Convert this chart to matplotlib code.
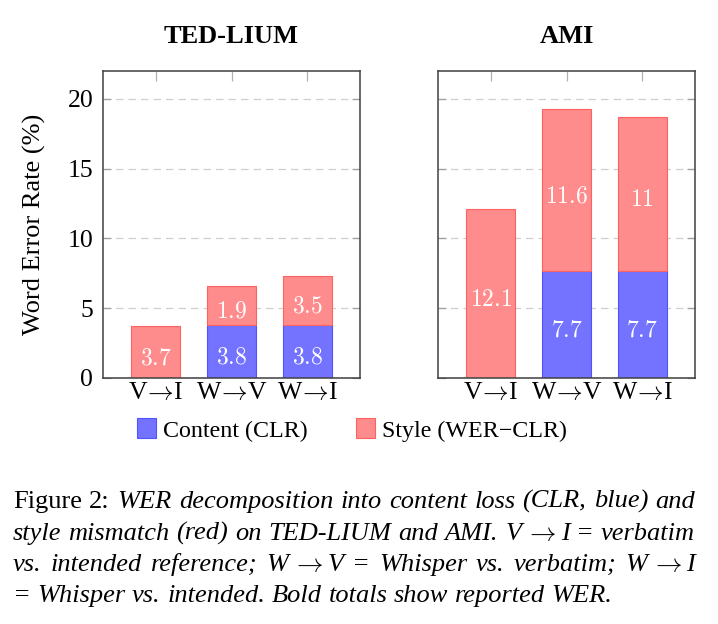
import matplotlib
matplotlib.use("Agg")
import matplotlib.pyplot as plt
from matplotlib.patches import Patch
import numpy as np

# ---------------- data ----------------
categories = ["V→I", "W→V", "W→I"]
panel_titles = ["TED-LIUM", "AMI"]

ted_content = [0.0, 3.8, 3.8]
ted_style = [3.7, 2.8, 3.5]
ted_content_text = ["", "3.8", "3.8"]
ted_style_text = ["3.7", "1.9", "3.5"]

ami_content = [0.0, 7.7, 7.7]
ami_style = [12.1, 11.6, 11.0]
ami_content_text = ["", "7.7", "7.7"]
ami_style_text = ["12.1", "11.6", "11"]

yticks = [0, 5, 10, 15, 20]
ylabel = "Word Error Rate (%)"
legend_labels = ["Content (CLR)", "Style (WER\u2212CLR)"]

caption_prefix = ["Figure", "2:"]
caption_lines = [
    "Figure 2: WER decomposition into content loss (CLR, blue) and",
    "style mismatch (red) on TED-LIUM and AMI. V\u2009→\u2009I = verbatim",
    "vs. intended reference; W\u2009→\u2009V = Whisper vs. verbatim; W\u2009→\u2009I",
    "= Whisper vs. intended. Bold totals show reported WER.",
]

ARROW = r"$\rightarrow$"
TIGHT_ARROW = r"$\!\rightarrow\!$"

# ---------------- style ----------------
plt.rcParams["font.family"] = ["Liberation Serif", "DejaVu Serif"]
plt.rcParams["mathtext.fontset"] = "cm"

BLUE_FILL, BLUE_EDGE = "#7373FF", "#5252FF"
RED_FILL, RED_EDGE = "#FF8C8C", "#FF6060"

W, H = 718, 624
fig = plt.figure(figsize=(W / 100, H / 100), dpi=100)


def px_axes(l, t, r, b):
    return [l / W, 1 - b / H, (r - l) / W, (b - t) / H]


ax1 = fig.add_axes(px_axes(103, 71, 360, 378))
ax2 = fig.add_axes(px_axes(438, 71, 695, 378))

panels = [
    (ax1, panel_titles[0], ted_content, ted_style, ted_content_text, ted_style_text),
    (ax2, panel_titles[1], ami_content, ami_style, ami_content_text, ami_style_text),
]

x = np.arange(len(categories))
bw = 0.65
tick_texts = [c.replace("→", TIGHT_ARROW) for c in categories]
for i, (ax, title, content, style, ctext, stext) in enumerate(panels):
    ax.bar(x, content, width=bw, color=BLUE_FILL, edgecolor=BLUE_EDGE,
           linewidth=0.8, zorder=2)
    ax.bar(x, style, bottom=content, width=bw, color=RED_FILL,
           edgecolor=RED_EDGE, linewidth=0.8, zorder=2)
    for xi, c, s, ct, st in zip(x, content, style, ctext, stext):
        if ct:
            ax.annotate(f"${ct}$", (xi, c / 2), xytext=(0, -5),
                        textcoords="offset points", ha="center", va="center",
                        color="white", fontsize=17, zorder=4)
        if st:
            ax.annotate(f"${st}$", (xi, c + s / 2), xytext=(0, -5),
                        textcoords="offset points", ha="center", va="center",
                        color="white", fontsize=17, zorder=4)

    ax.set_xlim(-0.7, 2.7)
    ax.set_ylim(0, 22)
    ax.set_yticks(yticks)
    ax.set_xticks(x, tick_texts)
    ax.set_axisbelow(True)
    ax.yaxis.grid(True, color="#cfcfcf", linestyle=(0, (6, 4)), linewidth=0.9)
    ax.tick_params(axis="x", direction="in", bottom=False, top=True,
                   length=7.2, width=0.9, color="#b0b0b0", labelsize=18.5, pad=3)
    ax.tick_params(axis="y", direction="in", left=True, right=True,
                   length=6, width=0.9, color="#a0a0a0", labelsize=18.5, pad=7,
                   labelleft=(i == 0))
    for sp in ax.spines.values():
        sp.set_color("#404040")
        sp.set_linewidth(1.1)
        sp.set_zorder(3)
    ax.set_title(title, fontsize=19, fontweight="bold", pad=20)

ax1.set_ylabel(ylabel, fontsize=19, va="center")
ax1.yaxis.set_label_coords(-0.268, 0.5)

handles = [Patch(facecolor=BLUE_FILL, edgecolor=BLUE_EDGE, linewidth=0.8),
           Patch(facecolor=RED_FILL, edgecolor=RED_EDGE, linewidth=0.8)]
fig.legend(handles, legend_labels, loc="center",
           bbox_to_anchor=(352 / W, 1 - 430 / H), ncol=2, frameon=False,
           fontsize=17.3, handlelength=0.8, handleheight=0.9,
           handletextpad=0.3, columnspacing=2.0, borderpad=0, borderaxespad=0)

# ---------------- caption (justified) ----------------
cap_fs = 19
cap_left, cap_right = 13, 695
cap_baselines = [508, 540, 571, 602]

fig.canvas.draw()
renderer = fig.canvas.get_renderer()


def measure(s, style):
    t = fig.text(0, 0, s, fontsize=cap_fs, fontstyle=style)
    w = t.get_window_extent(renderer).width
    t.remove()
    return w


em = cap_fs / 72 * 100
space_w = measure("x x", "italic") - measure("xx", "italic")
thin = 0.15 * em


def word_pieces(word, line_idx, word_idx):
    if line_idx == 0 and word_idx < len(caption_prefix):
        return [(word, "normal")]
    if "\u2009" in word:
        out = []
        for p in word.split("\u2009"):
            if p == "→":
                out.append((ARROW, "normal"))
            else:
                out.append((p, "italic"))
        return out
    return [(word, "italic")]


for li, (line, yb) in enumerate(zip(caption_lines, cap_baselines)):
    words = line.split(" ")
    wp = [word_pieces(w, li, wi) for wi, w in enumerate(words)]
    pw = [[measure(t, st) for t, st in pcs] for pcs in wp]
    ww = [sum(p) + thin * (len(p) - 1) for p in pw]
    if li < len(caption_lines) - 1:
        gap = (cap_right - cap_left - sum(ww)) / (len(words) - 1)
    else:
        gap = space_w
    xc = cap_left
    for pcs, widths, wtot in zip(wp, pw, ww):
        xp = xc
        for (t, st), w in zip(pcs, widths):
            fig.text(xp / W, 1 - yb / H, t, fontsize=cap_fs, fontstyle=st,
                     ha="left", va="baseline")
            xp += w + thin
        xc += wtot + gap

fig.savefig("out.png", dpi=100)
